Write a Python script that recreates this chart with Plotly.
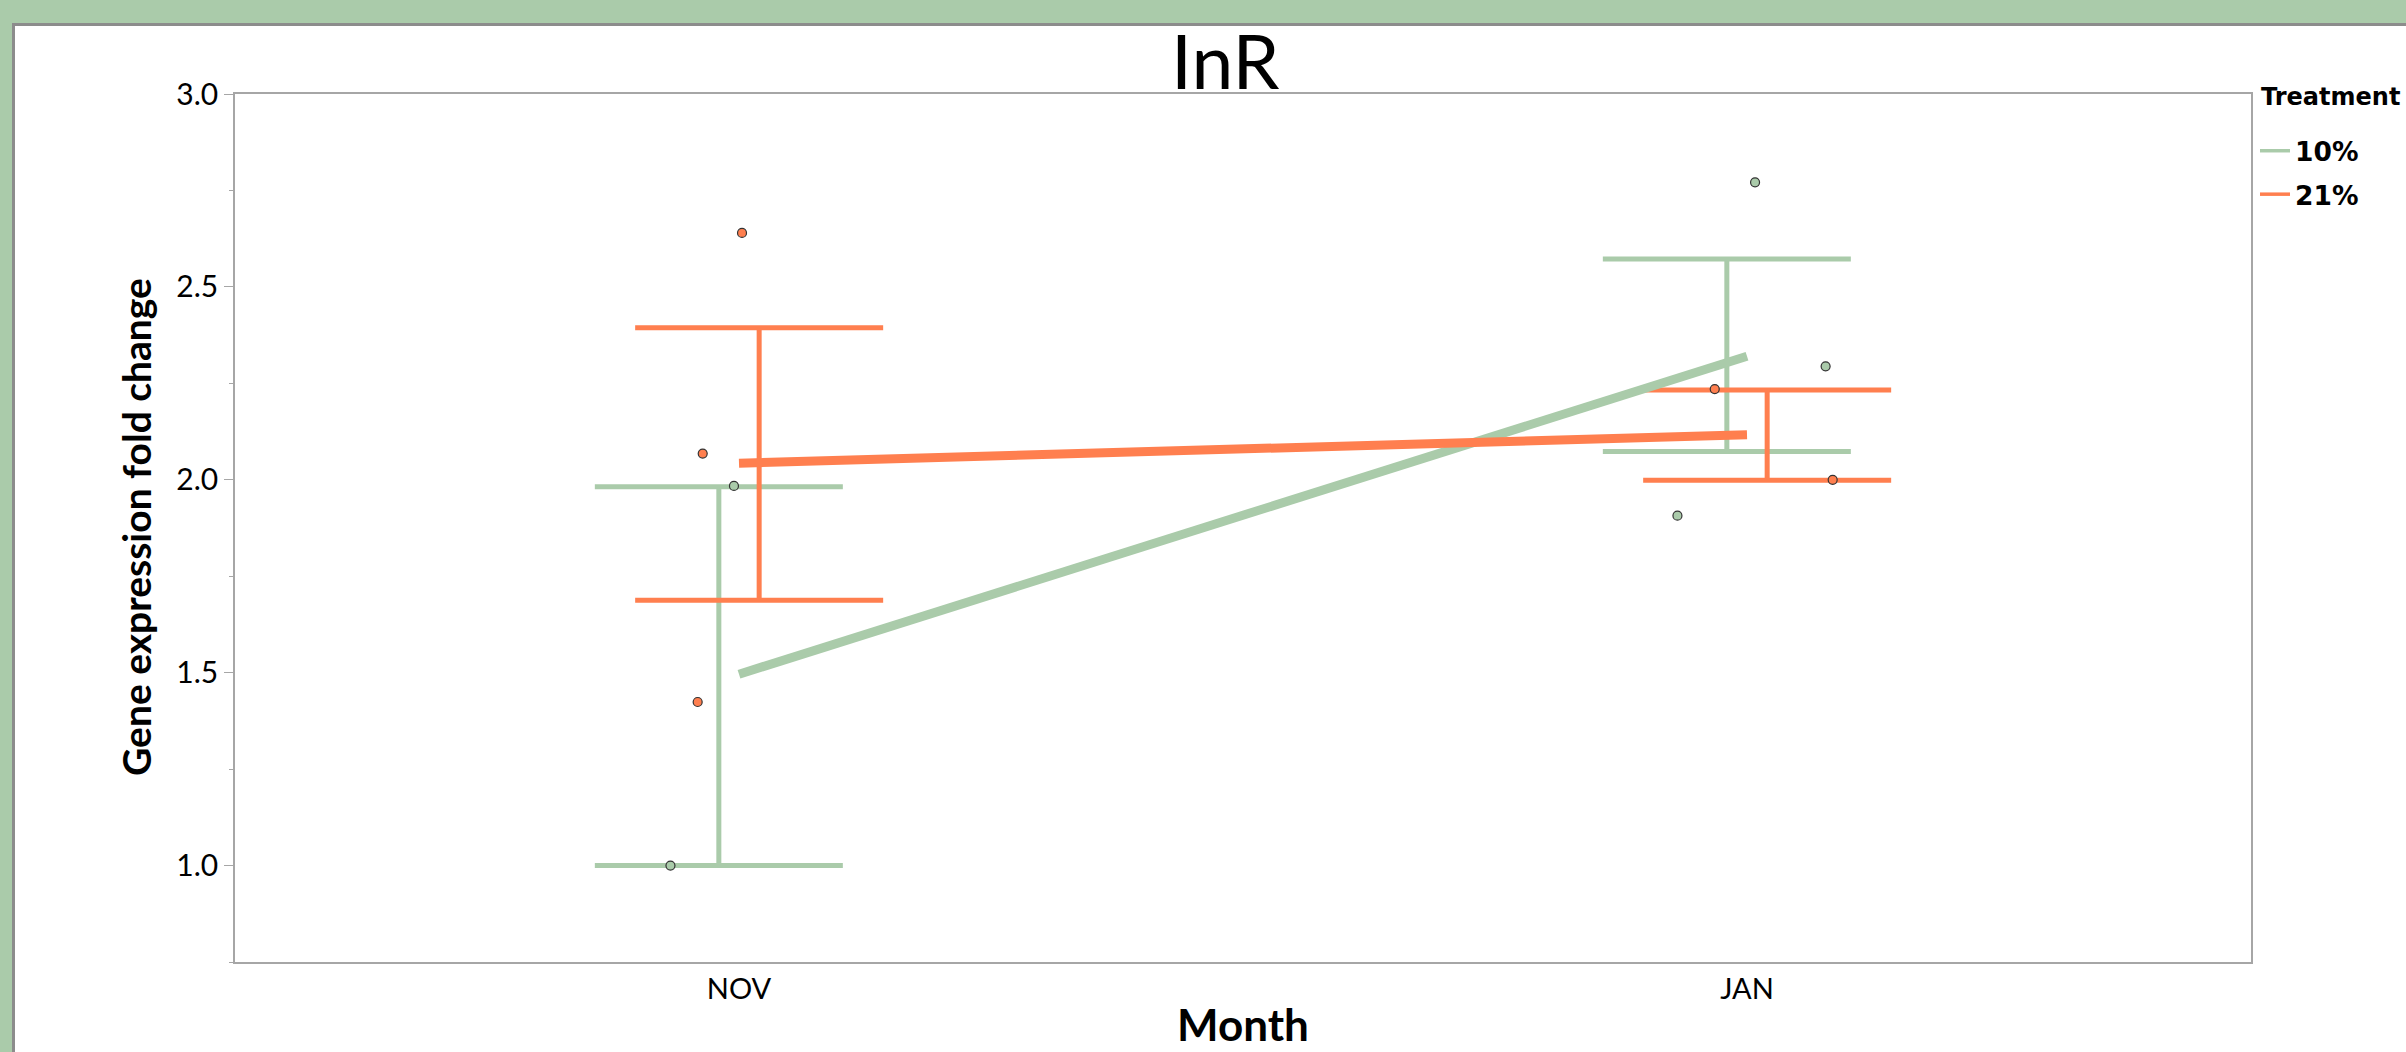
import plotly.graph_objects as go

# ---------------- data ----------------
months = ["NOV", "JAN"]
month_pos = [0, 1]
treatments = ["10%", "21%"]

mean_10 = [1.496, 2.320]
mean_21 = [2.043, 2.117]

err_lo_10 = [1.000, 2.073]
err_hi_10 = [1.982, 2.572]
err_lo_21 = [1.688, 1.999]
err_hi_21 = [2.394, 2.233]

pts_10_nov = [1.984, 1.000]
pts_10_jan = [2.771, 2.294, 1.907]
pts_21_nov = [2.640, 2.068, 1.424]
pts_21_jan = [2.235, 2.000]

jit_10_nov = [-0.005, -0.068]
jit_10_jan = [0.008, 0.078, -0.069]
jit_21_nov = [0.003, -0.036, -0.041]
jit_21_jan = [-0.032, 0.085]

yticks = [1.0, 1.5, 2.0, 2.5, 3.0]
yminor = [0.75, 1.25, 1.75, 2.25, 2.75]

# ---------------- style ----------------
GREEN = "#AACBAA"
ORANGE = "#FF7F4F"
AXIS = "#A6A6A6"
FRAME = "#8C8C8C"
W, H = 2406, 1052
ML, MR, MT, MB = 235, 155, 94, 90
PW, PH = W - ML - MR, H - MT - MB
DODGE = 0.02
LEG_FONT = "DejaVu Sans"


def px_x(p):
    return (p - ML) / PW


def px_y(p):
    return (H - MB - p) / PH


fig = go.Figure()

# error bars (dodged)
for lo, hi, mean, col, sgn in [
    (err_lo_10, err_hi_10, mean_10, GREEN, -1),
    (err_lo_21, err_hi_21, mean_21, ORANGE, 1),
]:
    xs = [p + sgn * DODGE for p in month_pos]
    fig.add_trace(go.Scatter(
        x=xs, y=mean, mode="markers",
        marker=dict(size=1, color="rgba(0,0,0,0)"),
        error_y=dict(type="data", symmetric=False,
                     array=[h - m for h, m in zip(hi, mean)],
                     arrayminus=[m - l for m, l in zip(mean, lo)],
                     color=col, thickness=5, width=124),
        showlegend=False, hoverinfo="skip"))

# mean lines
fig.add_trace(go.Scatter(x=month_pos, y=mean_10, mode="lines",
                         line=dict(color=GREEN, width=9), showlegend=False))
fig.add_trace(go.Scatter(x=month_pos, y=mean_21, mode="lines",
                         line=dict(color=ORANGE, width=9), showlegend=False))

# raw points
for pts, jit, pos, col in [
    (pts_10_nov, jit_10_nov, 0, GREEN), (pts_10_jan, jit_10_jan, 1, GREEN),
    (pts_21_nov, jit_21_nov, 0, ORANGE), (pts_21_jan, jit_21_jan, 1, ORANGE),
]:
    fig.add_trace(go.Scatter(
        x=[pos + j for j in jit], y=pts, mode="markers",
        marker=dict(size=9, color=col, line=dict(color="#333333", width=1.2)),
        showlegend=False))

# legend entries
for name, col in zip(treatments, [GREEN, ORANGE]):
    fig.add_trace(go.Scatter(x=[None], y=[None], mode="lines", name=f"<b>{name}</b>",
                             legendgroup=name,
                             line=dict(color=col, width=3.5)))

# frame (white panel with grey border on green background)
fig.add_shape(type="rect", xref="paper", yref="paper", layer="below",
              x0=px_x(13.5), x1=px_x(W + 20), y0=px_y(H + 20), y1=px_y(24.5),
              fillcolor="white", line=dict(color=FRAME, width=3))

fig.add_annotation(text="InR", xref="paper", yref="paper",
                   x=px_x(1225), y=px_y(60), xanchor="center", yanchor="middle",
                   showarrow=False, font=dict(family="Lato", size=75, color="black"))
fig.add_annotation(text="<b>Gene expression fold change</b>", xref="paper", yref="paper",
                   x=px_x(136), y=px_y(527), xanchor="center", yanchor="middle",
                   textangle=-90, showarrow=False,
                   font=dict(family="Lato", size=39, color="black"))
fig.add_annotation(text="<b>Month</b>", xref="paper", yref="paper",
                   x=0.5, y=px_y(1024), xanchor="center", yanchor="middle",
                   showarrow=False,
                   font=dict(family="Lato", size=44, color="black"))
fig.add_annotation(text="<b>Treatment</b>", xref="paper", yref="paper",
                   x=px_x(2259), y=px_y(97), xanchor="left", yanchor="middle",
                   showarrow=False,
                   font=dict(family=LEG_FONT, size=24, color="black"))

fig.update_layout(
    width=W, height=H,
    margin=dict(l=ML, r=MR, t=MT, b=MB, autoexpand=False),
    paper_bgcolor="#AACBAA", plot_bgcolor="white",
    legend=dict(x=px_x(2255), y=px_y(127), xanchor="left", yanchor="top",
                bgcolor="rgba(0,0,0,0)", traceorder="grouped",
                font=dict(family=LEG_FONT, size=26.5, color="black"),
                tracegroupgap=6),
    xaxis=dict(range=[-0.5, 1.5], tickvals=month_pos, ticktext=months,
               showgrid=False, zeroline=False, showline=True, linecolor=AXIS,
               linewidth=1.5, mirror=True, ticks="",
               tickfont=dict(family="Lato", size=29, color="black")),
    yaxis=dict(range=[0.75, 3.0], tickvals=yticks, ticktext=[f"{v:.1f}" for v in yticks],
               showgrid=False, zeroline=False, showline=True, linecolor=AXIS,
               linewidth=1.5, mirror=True, ticks="outside", ticklen=9,
               tickcolor=AXIS, tickwidth=1.2,
               minor=dict(tickvals=yminor, ticks="outside", ticklen=4, tickcolor=AXIS, tickwidth=1.2),
               tickfont=dict(family="Lato", size=30, color="black")),
)

fig.write_html("out.html",
               config={"displayModeBar": False},
               post_script="document.body.style.margin='0';document.body.style.overflow='hidden';")
